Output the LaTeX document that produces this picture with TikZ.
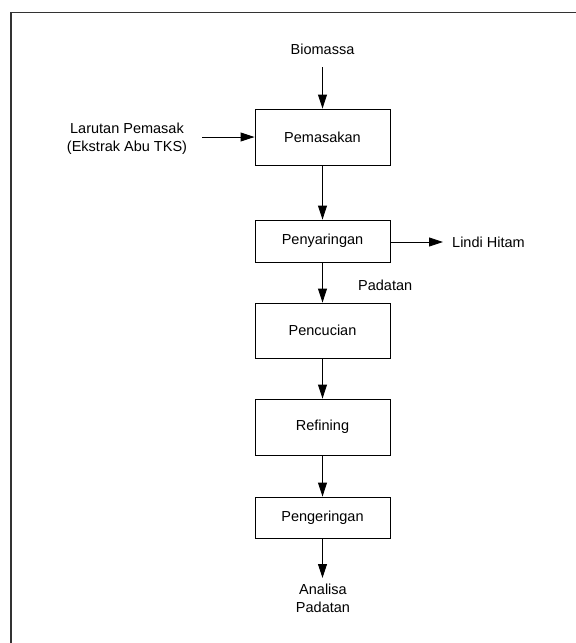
\documentclass[tikz,border=0pt]{standalone}
\usepackage{fontspec}
\setmainfont{Liberation Sans}
\usetikzlibrary{arrows.meta}
\begin{document}
\begin{tikzpicture}[x=1pt,y=-1pt,
  procbox/.style={draw=black,line width=0.9pt,minimum width=135pt,inner sep=0pt,font=\fontsize{14.5}{18}\selectfont},
  lbl/.style={inner sep=0pt,font=\fontsize{14.5}{18}\selectfont,align=center},
  flow/.style={line width=0.9pt,-{Triangle[length=14pt,width=9pt]}}]
\useasboundingbox (0,0) rectangle (576,643);
\draw[line width=1.3pt,black!80] (576,12.5) -- (11,12.5) -- (11,643);
\node[procbox,minimum height=56pt] (pem) at (322.5,137) {Pemasakan};
\node[procbox,minimum height=42pt] (pny) at (322.5,241) {Penyaringan};
\node[procbox,minimum height=55pt] (pnc) at (322.5,330.5) {Pencucian};
\node[procbox,minimum height=56pt] (ref) at (322.5,427) {Refining};
\node[procbox,minimum height=41pt] (png) at (322.5,517.5) {Pengeringan};
\node[lbl] (bio) at (322.5,49) {Biomassa};
\node[lbl] (lar) at (127,139) {Larutan Pemasak\\(Ekstrak Abu TKS)};
\node[lbl,anchor=west] (lin) at (452,242) {Lindi Hitam};
\node[lbl,anchor=west] (pad) at (358,285) {Padatan};
\node[lbl] (ana) at (323,598) {Analisa\\Padatan};
\coordinate (bioS) at (322.5,67);
\coordinate (larE) at (202,137);
\coordinate (linW) at (443,242);
\coordinate (anaN) at (322.5,578);
\draw[flow] (bioS) -- (pem.north);
\draw[flow] (larE) -- (pem.west |- larE);
\draw[flow] (pem.south) -- (pny.north);
\draw[flow] (pny.east |- linW) -- (linW);
\draw[flow] (pny.south) -- (pnc.north);
\draw[flow] (pnc.south) -- (ref.north);
\draw[flow] (ref.south) -- (png.north);
\draw[flow] (png.south) -- (anaN);
\end{tikzpicture}
\end{document}
